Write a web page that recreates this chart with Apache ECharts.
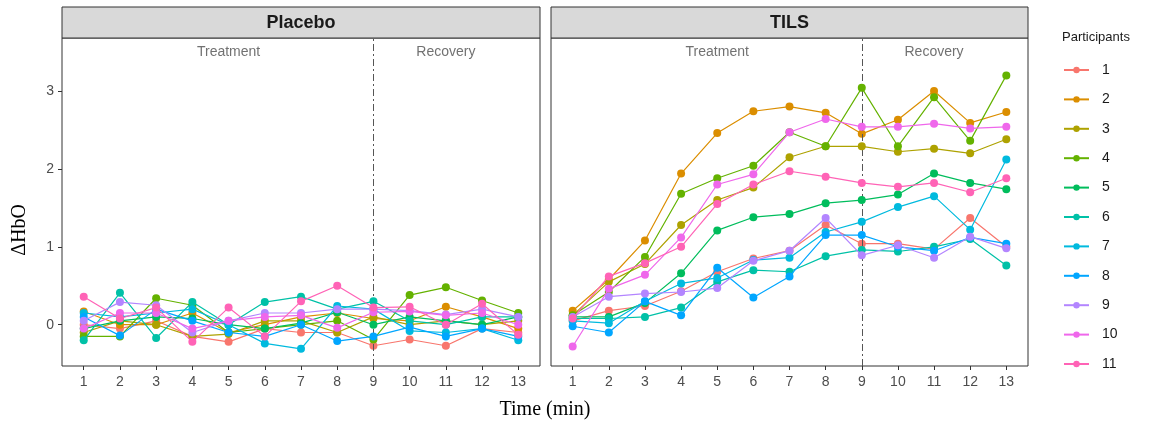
<!DOCTYPE html>
<html>
<head>
<meta charset="utf-8">
<script src="https://cdn.jsdelivr.net/npm/echarts@6/dist/echarts.min.js"></script>
<style>html,body{margin:0;padding:0;background:#fff;}#c{width:1156px;height:429px;}</style>
</head>
<body>
<div id="c"></div>
<script>
const times = [1,2,3,4,5,6,7,8,9,10,11,12,13];
const participants = ['1','2','3','4','5','6','7','8','9','10','11'];
const colors = ['#F8766D','#DB8E00','#AEA200','#64B200','#00BD5C','#00C1A7','#00BADE','#00A6FF','#B385FF','#EF67EB','#FF63B6'];
const panels = ['Placebo','TILS'];
const yTicks = [0,1,2,3];
const phaseLabels = ['Treatment','Recovery'];
const phaseX = [5,11];
const phaseY = 3.5;
const phaseBoundary = 9;

// Placebo values, one array per participant
const placebo1  = [0.00,-0.05,0.05,-0.15,-0.22,-0.05,-0.10,-0.10,-0.27,-0.19,-0.27,-0.05,-0.10];
const placebo2  = [0.17,0.00,0.00,0.15,-0.10,0.00,0.10,0.15,0.08,0.05,0.23,0.10,-0.05];
const placebo3  = [-0.10,0.05,0.00,-0.15,-0.12,0.05,0.05,-0.10,0.10,0.00,0.05,0.00,0.05];
const placebo4  = [-0.15,-0.15,0.34,0.25,-0.10,-0.05,0.00,0.05,-0.19,0.38,0.48,0.31,0.15];
const placebo5  = [-0.05,0.05,0.10,0.08,0.00,-0.05,0.02,0.16,0.00,0.10,0.05,0.00,0.10];
const placebo6  = [-0.20,0.41,-0.17,0.29,0.00,0.29,0.36,0.20,0.30,0.05,0.00,0.10,0.10];
const placebo7  = [0.15,0.10,0.15,0.20,0.00,-0.24,-0.31,0.24,0.20,-0.08,-0.10,-0.05,-0.20];
const placebo8  = [0.10,-0.14,0.20,0.05,-0.10,-0.15,0.00,-0.21,-0.15,-0.03,-0.15,-0.05,-0.15];
const placebo9  = [0.05,0.29,0.25,-0.10,0.05,0.15,0.15,0.20,0.20,0.18,0.13,0.20,0.10];
const placebo10 = [-0.05,0.15,0.15,-0.05,0.05,0.10,0.12,-0.04,0.16,0.17,0.12,0.15,0.00];
const placebo11 = [0.36,0.08,0.22,-0.22,0.22,-0.15,0.30,0.50,0.22,0.23,0.00,0.27,-0.13];

// TILS values, one array per participant
const tils1  = [0.05,0.18,0.24,0.43,0.68,0.85,0.95,1.28,1.04,1.04,0.97,1.37,1.00];
const tils2  = [0.18,0.58,1.08,1.94,2.46,2.74,2.80,2.72,2.45,2.63,3.00,2.59,2.73];
const tils3  = [0.12,0.55,0.78,1.28,1.60,1.76,2.15,2.29,2.29,2.22,2.26,2.20,2.38];
const tils4  = [0.12,0.42,0.87,1.68,1.88,2.04,2.47,2.29,3.04,2.29,2.92,2.36,3.20];
const tils5  = [0.10,0.10,0.28,0.66,1.21,1.38,1.42,1.56,1.60,1.67,1.94,1.82,1.74];
const tils6  = [0.08,0.08,0.10,0.22,0.55,0.70,0.68,0.88,0.96,0.94,1.00,1.10,0.76];
const tils7  = [0.05,0.02,0.30,0.53,0.60,0.83,0.86,1.19,1.32,1.51,1.65,1.22,2.12];
const tils8  = [-0.02,-0.10,0.30,0.12,0.73,0.35,0.62,1.15,1.15,1.00,0.95,1.12,1.04];
const tils9  = [0.10,0.36,0.40,0.42,0.47,0.82,0.95,1.37,0.89,1.02,0.86,1.13,0.98];
const tils10 = [-0.28,0.46,0.64,1.12,1.80,1.93,2.47,2.64,2.54,2.54,2.58,2.52,2.54];
const tils11 = [0.08,0.62,0.79,1.00,1.55,1.80,1.97,1.90,1.82,1.77,1.82,1.70,1.88];

const placeboData = [placebo1,placebo2,placebo3,placebo4,placebo5,placebo6,placebo7,placebo8,placebo9,placebo10,placebo11];
const tilsData = [tils1,tils2,tils3,tils4,tils5,tils6,tils7,tils8,tils9,tils10,tils11];
const panelData = [placeboData, tilsData];

const gridLeft = [62, 551];
const gridWidth = [478, 477];
const gridTop = 38, gridHeight = 328;
const axisFont = 'Liberation Sans, Arial, sans-serif';

const grids = [], xAxes = [], yAxes = [], series = [], graphics = [];
panels.forEach((p, gi) => {
  grids.push({left: gridLeft[gi], top: gridTop, width: gridWidth[gi], height: gridHeight,
    show: true, borderColor: '#333333', borderWidth: 1, backgroundColor: '#ffffff'});
  xAxes.push({type: 'value', gridIndex: gi, min: 0.4, max: 13.6, position: 'bottom',
    axisLine: {show: false, onZero: false}, splitLine: {show: false},
    axisTick: {show: true, customValues: times, length: 4, lineStyle: {color: '#333'}},
    axisLabel: {customValues: times, color: '#4d4d4d', fontSize: 14, fontFamily: axisFont, margin: 9}});
  yAxes.push({type: 'value', gridIndex: gi, min: -0.53, max: 3.68, position: 'left',
    axisLine: {show: false, onZero: false}, splitLine: {show: false},
    axisTick: {show: gi === 0, customValues: yTicks, length: 4, lineStyle: {color: '#333'}},
    axisLabel: {show: gi === 0, customValues: yTicks, color: '#4d4d4d', fontSize: 14, fontFamily: axisFont, margin: 8}});
  participants.forEach((name, si) => {
    const s = {
      name: name, type: 'line', xAxisIndex: gi, yAxisIndex: gi,
      data: times.map((t, i) => [t, panelData[gi][si][i]]),
      symbol: 'circle', symbolSize: 8, color: colors[si],
      lineStyle: {width: 1.2}, animation: false, z: 3 + si
    };
    if (si === 0) {
      s.markLine = {silent: true, symbol: 'none', animation: false,
        label: {show: false},
        lineStyle: {color: '#555555', type: [7, 3, 2, 3], width: 1},
        data: [{xAxis: phaseBoundary}]};
    }
    series.push(s);
  });
  series.push({type: 'scatter', xAxisIndex: gi, yAxisIndex: gi, symbolSize: 0, silent: true,
    data: phaseX.map((x, i) => [x, phaseY, phaseLabels[i]]),
    label: {show: true, position: 'inside', formatter: d => d.value[2],
      color: '#4d4d4d', fontSize: 14, fontFamily: axisFont}, animation: false});
  graphics.push({type: 'rect', shape: {x: gridLeft[gi], y: 7, width: gridWidth[gi], height: 31},
    style: {fill: '#d9d9d9', stroke: '#333333', lineWidth: 1}, z: 10});
  graphics.push({type: 'text', x: gridLeft[gi] + gridWidth[gi] / 2, y: 23,
    style: {text: p, fill: '#1a1a1a', font: 'bold 18px ' + axisFont, textAlign: 'center', textVerticalAlign: 'middle'}, z: 11});
});

graphics.push({type: 'text', x: 545, y: 410,
  style: {text: 'Time (min)', fill: '#000', font: '20px "Liberation Serif", "Times New Roman", serif', textAlign: 'center', textVerticalAlign: 'middle'}});
graphics.push({type: 'text', x: 20, y: 230, rotation: Math.PI / 2,
  style: {text: 'ΔHbO', fill: '#000', font: '20px "Liberation Serif", "Times New Roman", serif', textAlign: 'center', textVerticalAlign: 'middle'}});
graphics.push({type: 'text', x: 1062, y: 37,
  style: {text: 'Participants', fill: '#1a1a1a', font: '13px ' + axisFont, textAlign: 'left', textVerticalAlign: 'middle'}});

const chart = echarts.init(document.getElementById('c'), null, {renderer: 'canvas'});
chart.setOption({
  animation: false,
  backgroundColor: '#ffffff',
  grid: grids, xAxis: xAxes, yAxis: yAxes, series: series, graphic: graphics,
  legend: {data: participants, orient: 'vertical', left: 1058, top: 58, itemWidth: 25, itemHeight: 8,
    itemGap: 15.4, textStyle: {color: '#1a1a1a', fontSize: 14, fontFamily: axisFont, padding: [0,0,0,8]}},
  tooltip: {show: false}
});
</script>
</body>
</html>
